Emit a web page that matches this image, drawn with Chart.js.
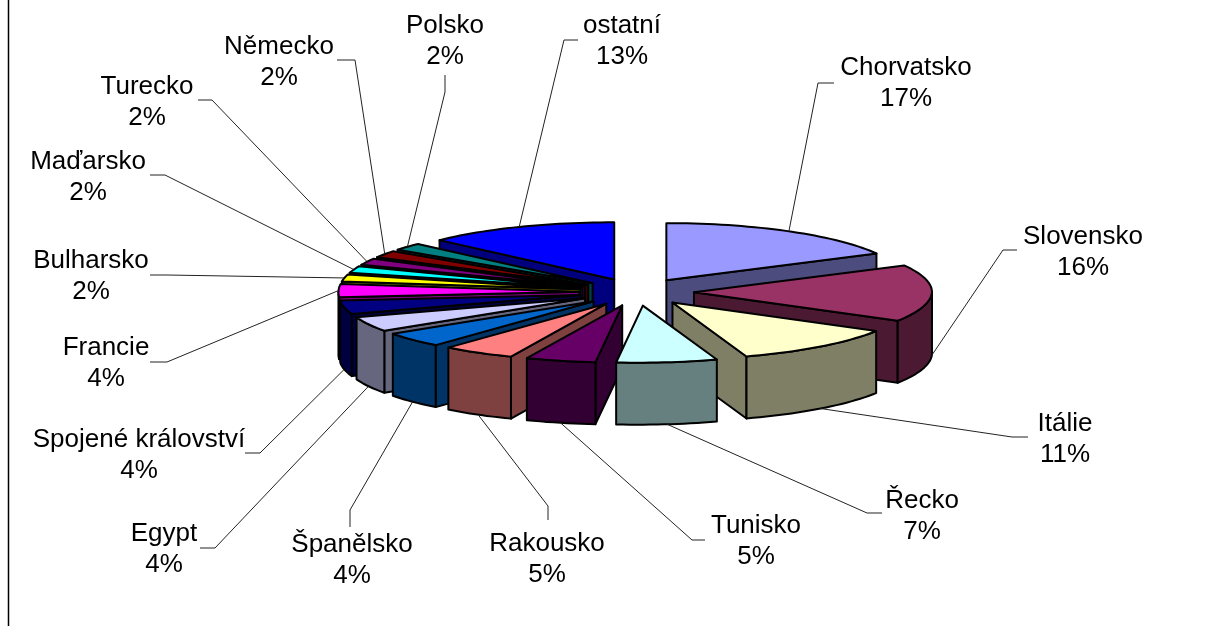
<!DOCTYPE html>
<html>
<head>
<meta charset="utf-8">
<title>Chart</title>
<script src="https://cdn.jsdelivr.net/npm/chart.js@4"></script>
<style>
  html, body { margin: 0; padding: 0; background: #fff; overflow: hidden; }
  canvas { display: block; }
</style>
</head>
<body>
<canvas id="chart" width="1210" height="626"></canvas>
<script>
const categories = ["Chorvatsko", "Slovensko", "Itálie", "Řecko", "Tunisko", "Rakousko", "Španělsko", "Egypt",
  "Spojené království", "Francie", "Bulharsko", "Maďarsko", "Turecko", "Německo", "Polsko", "ostatní"];
// the labels show them rounded
const shares = [17.2, 16.1, 11.3, 6.8, 4.7, 4.9, 4.3, 4.2, 3.9, 3.7, 2.0, 1.9, 1.9, 2.0, 2.1, 12.9];
const colors = ["#9999FF", "#993366", "#FFFFCC", "#CCFFFF", "#660066", "#FF8080", "#0066CC", "#CCCCFF",
  "#000080", "#FF00FF", "#FFFF00", "#00FFFF", "#800080", "#800000", "#008080", "#0000FF"];

// label centre x, first line centre y, then leader elbow and stub end
const labelLayout = [
  [906, 68, 818, 83, 834, 83],
  [1083, 237, 1003, 250, 1017, 250],
  [1065, 424, 1012, 437, 1028, 437],
  [922, 501, 867, 513, 882, 513],
  [756, 526, 692, 540, 705, 540],
  [547, 544, 548, 506, 548, 520],
  [352, 545, 350, 510, 350, 527],
  [164, 534, 215, 548, 200, 548],
  [139, 440, 260, 453, 245, 453],
  [106, 348, 167, 362, 150, 362],
  [91, 261, 167, 275, 150, 275],
  [88, 162, 165, 175, 150, 175],
  [147, 87, 212, 100, 198, 100],
  [279, 47, 355, 60, 337, 60],
  [445, 26, 445, 92, 445, 75],
  [622, 26, 564, 40, 578, 40]
];

const EXPLODE = 57;   // slice pull-out
const TILT = 0.24;    // vertical squash of the pie plane
const DEPTH = 62;     // wall height
const SKEW = 6;       // front of the pie leans left a little
const LEFT_STRETCH = 1.012; // left half reads a bit wider than the right

function darken(hex) {
  const n = parseInt(hex.slice(1), 16);
  return "rgb(" + ((n >> 16) >> 1) + "," + (((n >> 8) & 255) >> 1) + "," + ((n & 255) >> 1) + ")";
}

function screenX(arc, X, Y) {
  const maxY = arc.outerRadius + EXPLODE;
  return arc.x + (X < 0 ? X * LEFT_STRETCH : X) - SKEW * Math.max(0, Y) / maxY;
}

const pie3d = {
  id: "pie3d",
  beforeDatasetsDraw(chart) {
    const ctx = chart.ctx;
    const arcs = chart.getDatasetMeta(0).data.slice();
    const mid = a => (a.startAngle + a.endAngle) / 2;
    arcs.sort((a, b) => Math.sin(mid(a)) - Math.sin(mid(b)));

    arcs.forEach(arc => {
      const m = mid(arc), R = arc.outerRadius;
      const ox = Math.cos(m) * EXPLODE, oy = Math.sin(m) * EXPLODE;
      const project = (x, y, z) => [screenX(arc, x + ox, y + oy), arc.y + (y + oy) * TILT + z];
      const rimPt = (t, z) => project(Math.cos(t) * R, Math.sin(t) * R, z);
      const rim = (from, to, z) => {
        const pts = [], n = Math.max(2, Math.ceil((to - from) / 0.03));
        for (let i = 0; i <= n; i++) pts.push(rimPt(from + (to - from) * i / n, z));
        return pts;
      };
      const face = (pts, fill) => {
        ctx.beginPath();
        pts.forEach((p, i) => i ? ctx.lineTo(p[0], p[1]) : ctx.moveTo(p[0], p[1]));
        ctx.closePath();
        ctx.fillStyle = fill;
        ctx.fill();
        ctx.stroke();
      };
      const top = arc.options.backgroundColor, side = darken(top);
      const s = arc.startAngle, e = arc.endAngle;
      ctx.save();
      ctx.strokeStyle = "#000";
      ctx.lineWidth = 2;
      ctx.lineJoin = "round";
      if (Math.cos(s) < 0) {
        face([project(0, 0, 0), rimPt(s, 0), rimPt(s, DEPTH), project(0, 0, DEPTH)], side);
      }
      if (Math.cos(e) > 0) {
        face([project(0, 0, 0), rimPt(e, 0), rimPt(e, DEPTH), project(0, 0, DEPTH)], side);
      }
      const a0 = Math.max(s, 0), a1 = Math.min(e, Math.PI);
      if (a1 > a0) {
        face(rim(a0, a1, 0).concat(rim(a0, a1, DEPTH).reverse()), side);
      }
      face([project(0, 0, 0)].concat(rim(s, e, 0)), top);
      ctx.restore();
    });
    return false;
  },
  afterDraw(chart) {
    const ctx = chart.ctx;
    ctx.save();
    // frame line on the left
    ctx.strokeStyle = "#000";
    ctx.lineWidth = 1.5;
    ctx.beginPath();
    ctx.moveTo(8.5, 0);
    ctx.lineTo(8.5, 626);
    ctx.stroke();

    ctx.font = "26px 'Liberation Sans', Arial, sans-serif";
    ctx.textAlign = "center";
    ctx.textBaseline = "middle";
    ctx.fillStyle = "#000";
    chart.getDatasetMeta(0).data.forEach((arc, i) => {
      const m = (arc.startAngle + arc.endAngle) / 2;
      const R = arc.outerRadius + EXPLODE;
      const Y = Math.sin(m) * R;
      const ax = screenX(arc, Math.cos(m) * R, Y);
      const ay = arc.y + Y * TILT + (Y > 0.01 ? DEPTH : 0);
      const [lx, ly, ex, ey, sx, sy] = labelLayout[i];
      ctx.strokeStyle = "#222";
      ctx.lineWidth = 1;
      ctx.beginPath();
      ctx.moveTo(ax, ay);
      ctx.lineTo(ex, ey);
      ctx.lineTo(sx, sy);
      ctx.stroke();
      ctx.fillText(categories[i], lx, ly);
      ctx.fillText(Math.round(shares[i]) + "%", lx, ly + 31);
    });
    ctx.restore();
  }
};

new Chart(document.getElementById("chart"), {
  type: "pie",
  data: {
    labels: categories,
    datasets: [{ data: shares, backgroundColor: colors, borderWidth: 0 }]
  },
  options: {
    responsive: false,
    animation: false,
    layout: { padding: { left: 399, right: 335, top: 54, bottom: 96 } },
    plugins: { legend: { display: false }, tooltip: { enabled: false } }
  },
  plugins: [pie3d]
});
</script>
</body>
</html>
